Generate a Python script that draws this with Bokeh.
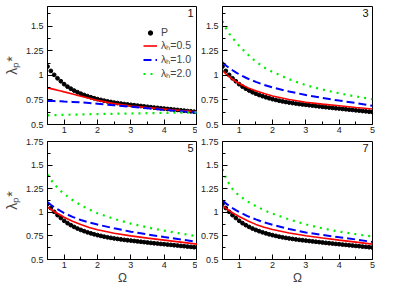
from bokeh.plotting import figure
from bokeh.layouts import column, row
from bokeh.models import (FixedTicker, CustomJSTickFormatter, Label, Legend,
                          LegendItem)
from bokeh.embed import file_html
from bokeh.resources import INLINE

# ---------------- data ----------------
omega_p = [0.5, 0.6, 0.7, 0.8, 0.9, 1.0, 1.1, 1.2, 1.3, 1.4, 1.5, 1.6, 1.7, 1.8, 1.9,
           2.0, 2.1, 2.2, 2.3, 2.4, 2.5, 2.6, 2.7, 2.8, 2.9, 3.0, 3.1, 3.2, 3.3, 3.4,
           3.5, 3.6, 3.7, 3.8, 3.9, 4.0, 4.1, 4.2, 4.3, 4.4, 4.5, 4.6, 4.7, 4.8, 4.9, 5.0]
lam_P = [1.09, 1.045, 1.005, 0.97, 0.94, 0.91, 0.885, 0.864, 0.845, 0.828, 0.813, 0.800,
         0.788, 0.777, 0.767, 0.758, 0.750, 0.742, 0.735, 0.729, 0.723, 0.718, 0.713,
         0.708, 0.704, 0.700, 0.696, 0.692, 0.688, 0.684, 0.680, 0.676, 0.672, 0.669,
         0.665, 0.662, 0.658, 0.655, 0.651, 0.648, 0.644, 0.641, 0.637, 0.634, 0.630, 0.627]

omega_line = [0.5, 0.6, 0.7, 0.8, 0.9, 1.0, 1.25, 1.5, 1.75, 2.0, 2.5, 3.0, 3.5, 4.0, 4.5, 5.0]

p1_h05 = [0.872, 0.865, 0.857, 0.849, 0.841, 0.832, 0.810, 0.788, 0.766, 0.745, 0.712, 0.688, 0.672, 0.658, 0.642, 0.628]
p1_h10 = [0.740, 0.739, 0.738, 0.737, 0.736, 0.734, 0.730, 0.725, 0.718, 0.711, 0.695, 0.680, 0.665, 0.650, 0.636, 0.622]
p1_h20 = [0.593, 0.594, 0.595, 0.596, 0.597, 0.598, 0.600, 0.602, 0.604, 0.606, 0.609, 0.612, 0.615, 0.618, 0.621, 0.623]

p3_h05 = [1.050, 1.015, 0.985, 0.960, 0.937, 0.917, 0.875, 0.843, 0.815, 0.790, 0.755, 0.727, 0.707, 0.690, 0.673, 0.657]
p3_h10 = [1.133, 1.100, 1.075, 1.052, 1.030, 1.010, 0.968, 0.933, 0.903, 0.877, 0.835, 0.800, 0.770, 0.743, 0.718, 0.690]
p3_h20 = [1.550, 1.480, 1.425, 1.380, 1.340, 1.300, 1.215, 1.140, 1.080, 1.035, 0.960, 0.900, 0.855, 0.817, 0.785, 0.757]

p5_h05 = [1.055, 1.032, 1.008, 0.988, 0.968, 0.948, 0.905, 0.870, 0.840, 0.815, 0.778, 0.750, 0.726, 0.705, 0.684, 0.662]
p5_h10 = [1.107, 1.080, 1.055, 1.033, 1.012, 0.992, 0.952, 0.918, 0.892, 0.870, 0.830, 0.795, 0.765, 0.738, 0.712, 0.686]
p5_h20 = [1.400, 1.345, 1.300, 1.260, 1.225, 1.195, 1.130, 1.075, 1.030, 0.990, 0.930, 0.880, 0.840, 0.805, 0.775, 0.745]

p7_h05 = [1.073, 1.045, 1.018, 0.995, 0.975, 0.955, 0.910, 0.872, 0.842, 0.818, 0.780, 0.752, 0.727, 0.705, 0.684, 0.663]
p7_h10 = [1.125, 1.095, 1.068, 1.045, 1.024, 1.004, 0.960, 0.925, 0.893, 0.867, 0.823, 0.787, 0.760, 0.736, 0.712, 0.686]
p7_h20 = [1.455, 1.370, 1.300, 1.247, 1.210, 1.177, 1.115, 1.066, 1.022, 0.986, 0.924, 0.872, 0.830, 0.795, 0.768, 0.743]

x_ticks = [1, 2, 3, 4, 5]
x_minor = [0.5, 1.5, 2.5, 3.5, 4.5]
y_ticks = [0.5, 0.75, 1.0, 1.25, 1.5, 1.75]
y_minor = [0.625, 0.875, 1.125, 1.375, 1.625]

legend_labels = ["P", "λₕ=0.5", "λₕ=1.0", "λₕ=2.0"]

FONT = "Liberation Sans"
FW, FH = 150, 118


def make_panel(num, h05, h10, h20, ytop, left, bottom, with_legend=False):
    p = figure(frame_width=FW, frame_height=FH, x_range=(0.5, 5.0), y_range=(0.5, ytop),
               output_backend="svg", toolbar_location=None,
               min_border_left=37 if left else 0, min_border_right=0 if left else 6,
               min_border_top=6, min_border_bottom=0)
    p.xgrid.visible = False
    p.ygrid.visible = False
    p.outline_line_color = "black"
    p.outline_line_width = 1

    for ax, tk, mn in ((p.xaxis[0], x_ticks, x_minor), (p.yaxis[0], y_ticks, y_minor)):
        ax.ticker = FixedTicker(ticks=tk, minor_ticks=mn)
        ax.major_tick_in = 5
        ax.major_tick_out = 0
        ax.minor_tick_in = 3
        ax.minor_tick_out = 0
        ax.axis_line_color = "black"
        ax.major_label_text_font = FONT
        ax.major_label_text_font_size = "9px"
        ax.major_label_text_color = "#222222"
        ax.formatter = CustomJSTickFormatter(code="return String(tick)")
    p.xaxis.major_label_standoff = 2
    p.yaxis.major_label_standoff = 4

    if left:
        p.yaxis.axis_label = "λₚ*"
        p.yaxis.axis_label_text_font = FONT
        p.yaxis.axis_label_text_font_size = "14px"
        p.yaxis.axis_label_text_font_style = "normal"
        p.yaxis.axis_label_standoff = 3
    if bottom:
        p.xaxis.axis_label = "Ω"
        p.xaxis.axis_label_text_font = FONT
        p.xaxis.axis_label_text_font_size = "12px"
        p.xaxis.axis_label_text_font_style = "normal"
        p.xaxis.axis_label_standoff = 0

    r_p = p.scatter(omega_p, lam_P, size=3.8, color="black")
    r1 = p.line(omega_line, h05, line_color="#ff0000", line_width=1.6)
    r2 = p.line(omega_line, h10, line_color="#0000ff", line_width=2, line_dash="8 4")
    r3 = p.line(omega_line, h20, line_color="#00ee00", line_width=2.2, line_dash="2 5")

    p.add_layout(Label(x=5.0, y=ytop, text=str(num), x_offset=-4, y_offset=-2,
                       text_align="right", text_baseline="top", text_font=FONT,
                       text_font_size="11px", text_color="#111111"))

    if with_legend:
        items = [LegendItem(label=legend_labels[0], renderers=[r_p]),
                 LegendItem(label=legend_labels[1], renderers=[r1]),
                 LegendItem(label=legend_labels[2], renderers=[r2]),
                 LegendItem(label=legend_labels[3], renderers=[r3])]
        leg = Legend(items=items, location=(96, FH - 74), border_line_color=None,
                     background_fill_alpha=0, label_text_font=FONT,
                     label_text_font_size="10.5px", glyph_width=14, glyph_height=11,
                     label_height=11, spacing=0, padding=2, margin=0, label_standoff=4)
        p.add_layout(leg)
    return p


p1 = make_panel(1, p1_h05, p1_h10, p1_h20, 1.7, True, False, with_legend=True)
p3 = make_panel(3, p3_h05, p3_h10, p3_h20, 1.7, False, False)
p5 = make_panel(5, p5_h05, p5_h10, p5_h20, 1.75, True, True)
p7 = make_panel(7, p7_h05, p7_h10, p7_h20, 1.75, False, True)

layout = column(row(p1, p3), row(p5, p7))
open("out.html", "w").write(file_html(layout, INLINE))
